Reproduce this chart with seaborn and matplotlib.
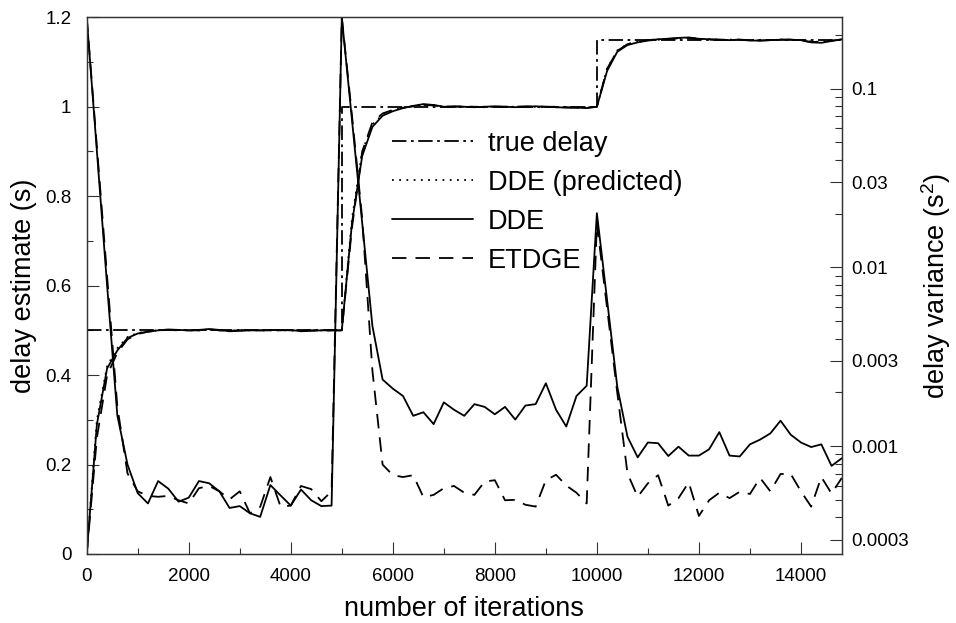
import matplotlib
matplotlib.use("Agg")
import matplotlib.pyplot as plt
import seaborn as sns
from matplotlib.ticker import MultipleLocator, FixedLocator, FuncFormatter

# sample grid (every 200 iterations)
iterations = list(range(0, 15000, 200))

# true delay (step function)
true_x = [0, 5000, 10000, 14800]
true_delay = [0.5, 1.0, 1.15, 1.15]

# delay estimates (s)
dde_delay = [0.0, 0.29, 0.415, 0.455, 0.483, 0.493, 0.497, 0.5, 0.502, 0.501,
             0.5, 0.501, 0.503, 0.501, 0.498, 0.499, 0.5, 0.5, 0.501, 0.5,
             0.501, 0.498, 0.499, 0.5, 0.5, 0.5, 0.74, 0.89, 0.955, 0.98,
             0.99, 0.997, 1.002, 1.006, 1.004, 1.0, 1.001, 1.0, 0.999, 1.0,
             1.001, 1.0, 0.999, 1.0, 1.001, 1.0, 0.999, 0.998, 0.998, 0.997,
             1.0, 1.08, 1.123, 1.138, 1.144, 1.148, 1.151, 1.152, 1.154, 1.155,
             1.152, 1.151, 1.15, 1.149, 1.15, 1.148, 1.148, 1.149, 1.15, 1.15,
             1.149, 1.144, 1.143, 1.147, 1.151]
dde_pred_delay = [0.0, 0.3, 0.42, 0.46, 0.485, 0.494, 0.498, 0.5, 0.501, 0.501,
                  0.5, 0.5, 0.502, 0.5, 0.499, 0.5, 0.5, 0.5, 0.5, 0.5,
                  0.5, 0.499, 0.5, 0.5, 0.5, 0.5, 0.75, 0.9, 0.96, 0.982,
                  0.992, 0.998, 1.002, 1.004, 1.003, 1.0, 1.0, 1.0, 1.0, 1.0,
                  1.0, 1.0, 1.0, 1.0, 1.0, 1.0, 0.999, 0.999, 0.998, 0.998,
                  1.0, 1.085, 1.126, 1.14, 1.145, 1.148, 1.15, 1.151, 1.153, 1.154,
                  1.152, 1.151, 1.15, 1.15, 1.15, 1.149, 1.149, 1.149, 1.15, 1.15,
                  1.149, 1.146, 1.145, 1.148, 1.15]
etdge_delay = [0.0, 0.26, 0.4, 0.45, 0.48, 0.492, 0.497, 0.5, 0.501, 0.5,
               0.5, 0.5, 0.502, 0.5, 0.499, 0.5, 0.501, 0.5, 0.5, 0.501,
               0.5, 0.499, 0.5, 0.5, 0.5, 0.5, 0.73, 0.9, 0.965, 0.985,
               0.993, 0.998, 1.001, 1.004, 1.003, 1.0, 1.0, 1.001, 1.0, 0.999,
               1.0, 1.0, 1.0, 1.001, 1.0, 1.0, 1.0, 0.999, 0.998, 0.998,
               1.0, 1.085, 1.125, 1.14, 1.145, 1.149, 1.151, 1.152, 1.153, 1.154,
               1.151, 1.15, 1.15, 1.149, 1.15, 1.149, 1.148, 1.149, 1.15, 1.15,
               1.148, 1.145, 1.145, 1.148, 1.15]

# delay variances (s^2)
dde_var = [0.25, 0.0445, 0.0079, 0.00149, 0.00079, 0.000547, 0.000479, 0.000639, 0.000579, 0.00049,
           0.000516, 0.000639, 0.000621, 0.00056, 0.000452, 0.000463, 0.000422, 0.000403, 0.000607, 0.000531,
           0.000466, 0.000573, 0.000499, 0.000463, 0.000466, 0.25, 0.0666, 0.0177, 0.00471, 0.00236,
           0.0021, 0.00191, 0.00148, 0.00155, 0.00133, 0.00176, 0.0016, 0.00148, 0.00172, 0.00166,
           0.00151, 0.00166, 0.00141, 0.00169, 0.00172, 0.00225, 0.0016, 0.00129, 0.00191, 0.00218,
           0.0201, 0.00658, 0.00215, 0.00113, 0.000867, 0.00105, 0.00104, 0.000882, 0.000995, 0.000887,
           0.000887, 0.000962, 0.0012, 0.000887, 0.000877, 0.001025, 0.00109, 0.00118, 0.00139, 0.00116,
           0.00105, 0.00099, 0.001025, 0.000777, 0.000857]
etdge_var = [0.25, 0.0471, 0.00887, 0.00167, 0.000705, 0.00056, 0.000528, 0.000522, 0.000528, 0.000499,
             0.000479, 0.000583, 0.0006, 0.00056, 0.000505, 0.00056, 0.000422, 0.000458, 0.000673, 0.00046,
             0.000466, 0.0006, 0.000576, 0.000493, 0.00056, 0.25, 0.0704, 0.01875, 0.00265, 0.00079,
             0.000689, 0.000673, 0.000689, 0.000519, 0.000535, 0.000583, 0.0006, 0.00055, 0.000535, 0.000635,
             0.000646, 0.000499, 0.000502, 0.000471, 0.00046, 0.000646, 0.000693, 0.000603, 0.00055, 0.000479,
             0.0177, 0.00593, 0.00199, 0.000705, 0.000522, 0.000621, 0.000689, 0.000466, 0.000513, 0.000628,
             0.000408, 0.000499, 0.00055, 0.000513, 0.000557, 0.000541, 0.000665, 0.00056, 0.0007, 0.0007,
             0.00056, 0.00046, 0.000673, 0.000544, 0.000665]

var_major = [3e-4, 1e-3, 3e-3, 1e-2, 3e-2, 1e-1]
var_minor = [m * d for d in (1e-4, 1e-3, 1e-2, 1e-1) for m in (2, 4, 5, 6, 7, 8, 9)]

sns.set_style("ticks")
plt.rcParams["font.family"] = ["Liberation Sans", "DejaVu Sans"]
plt.rcParams["mathtext.fontset"] = "custom"
plt.rcParams["mathtext.rm"] = "Liberation Sans"
plt.rcParams["mathtext.it"] = "Liberation Sans:italic"
for key in ("text.color", "axes.labelcolor", "xtick.color", "ytick.color"):
    plt.rcParams[key] = "black"

fig = plt.figure(figsize=(9.56, 6.23), dpi=100)
ax = fig.add_axes([0.0907, 0.1108, 0.7898, 0.8614])
ax2 = ax.twinx()

lw = 1.3
dashdot = (0, (8, 2.5, 1.5, 2.5))
dotted = (0, (1, 3))
dashed = (0, (8, 5))

sns.lineplot(x=true_x, y=true_delay, ax=ax, color="k", lw=lw, ls=dashdot,
             drawstyle="steps-post", errorbar=None, label="true delay")
sns.lineplot(x=iterations, y=dde_pred_delay, ax=ax, color="k", lw=lw, ls=dotted,
             errorbar=None, label="DDE (predicted)")
sns.lineplot(x=iterations, y=dde_delay, ax=ax, color="k", lw=lw, ls="-",
             errorbar=None, label="DDE")
sns.lineplot(x=iterations, y=etdge_delay, ax=ax, color="k", lw=lw, ls=dashed,
             errorbar=None, label="ETDGE")

sns.lineplot(x=iterations, y=dde_var, ax=ax2, color="k", lw=lw, ls="-", errorbar=None)
sns.lineplot(x=iterations, y=etdge_var, ax=ax2, color="k", lw=lw, ls=dashed, errorbar=None)

fmt = FuncFormatter(lambda v, p: f"{v:g}")

ax.set_xlim(0, 14800)
ax.set_ylim(0, 1.2)
ax.xaxis.set_major_locator(MultipleLocator(2000))
ax.xaxis.set_minor_locator(MultipleLocator(1000))
ax.yaxis.set_major_locator(MultipleLocator(0.2))
ax.yaxis.set_minor_locator(MultipleLocator(0.1))
ax.yaxis.set_major_formatter(fmt)
ax.tick_params(which="both", direction="in", top=False, right=False, width=0.8,
               color="#333333", labelcolor="black")
ax.tick_params(which="major", length=8.5, labelsize=13.5)
ax.tick_params(axis="x", which="major", pad=10)
ax.tick_params(axis="y", which="major", pad=11)
ax.tick_params(which="minor", length=4.5)

ax2.set_yscale("log")
ax2.set_ylim(2.5e-4, 0.25)
ax2.yaxis.set_major_locator(FixedLocator(var_major))
ax2.yaxis.set_minor_locator(FixedLocator(var_minor))
ax2.yaxis.set_major_formatter(fmt)
ax2.yaxis.set_minor_formatter(FuncFormatter(lambda v, p: ""))
ax2.tick_params(which="both", direction="in", left=False, width=0.8,
                color="#333333", labelcolor="black")
ax2.tick_params(which="major", length=8.5, labelsize=13.5, pad=7)
ax2.tick_params(which="minor", length=5)

for a in (ax, ax2):
    for s in a.spines.values():
        s.set_visible(True)
        s.set_color("#333333")
        s.set_linewidth(0.9)

ax.set_xlabel("number of iterations", fontsize=19.5, labelpad=8, color="black")
ax.set_ylabel("delay estimate (s)", fontsize=19.5, labelpad=6, color="black")
ax2.set_ylabel("delay variance (s$^2$)", fontsize=19.5, labelpad=7, color="black")

handles, labels = ax.get_legend_handles_labels()
if ax.get_legend() is not None:
    ax.get_legend().remove()
leg = ax2.legend(handles, labels, loc="upper left", bbox_to_anchor=(0.404, 0.789),
                 frameon=False, fontsize=19.5, handlelength=3.0, handletextpad=0.55,
                 labelspacing=0.48, borderpad=0, borderaxespad=0)
for t in leg.get_texts():
    t.set_color("black")

fig.savefig("out.png", dpi=100)
